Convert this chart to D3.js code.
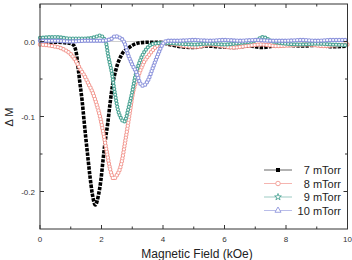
<!DOCTYPE html>
<html>
<head>
<meta charset="utf-8">
<script src="https://cdn.jsdelivr.net/npm/d3@7"></script>
<style>
  body { margin: 0; background: #fff; }
  text { font-family: "Liberation Sans", Arial, sans-serif; }
</style>
</head>
<body>
<div id="plot"></div>
<script>
// values (field in kOe, delta M)
var field7 = [0, 0.5, 0.9, 1.07, 1.18, 1.24, 1.30, 1.37, 1.42, 1.48, 1.54, 1.62, 1.70, 1.80, 1.90, 1.98, 2.05, 2.12, 2.20, 2.28, 2.36, 2.48, 2.65, 2.9, 3.2, 3.5, 3.9, 4.2, 4.6, 5.0, 5.4, 5.8, 6.3, 6.8, 7.2, 7.6, 8.0, 8.5, 9.0, 9.5, 10];
var dm7 = [-0.001, -0.001, -0.002, -0.004, -0.015, -0.035, -0.056, -0.079, -0.100, -0.125, -0.148, -0.178, -0.203, -0.218, -0.205, -0.185, -0.158, -0.133, -0.110, -0.082, -0.058, -0.036, -0.018, -0.008, -0.002, -0.001, -0.001, -0.004, -0.007, -0.008, -0.006, -0.007, -0.008, -0.006, -0.008, -0.006, -0.005, -0.006, -0.005, -0.007, -0.006];

var field8 = [0, 0.4, 0.75, 1.0, 1.15, 1.3, 1.45, 1.56, 1.72, 1.85, 1.95, 2.05, 2.18, 2.28, 2.40, 2.50, 2.58, 2.67, 2.76, 2.84, 2.93, 3.02, 3.18, 3.35, 3.58, 3.80, 4.0, 4.3, 4.7, 5.1, 5.5, 5.9, 6.3, 6.7, 7.2, 7.7, 8.2, 8.7, 9.2, 9.6, 10];
var dm8 = [-0.004, -0.006, -0.010, -0.017, -0.025, -0.036, -0.046, -0.055, -0.069, -0.085, -0.100, -0.120, -0.149, -0.170, -0.183, -0.178, -0.172, -0.158, -0.136, -0.116, -0.092, -0.069, -0.048, -0.030, -0.016, -0.006, -0.002, -0.003, -0.006, -0.007, -0.004, -0.006, -0.008, -0.006, -0.004, -0.006, -0.005, -0.004, -0.006, -0.005, -0.004];

var field9 = [0, 0.5, 1.0, 1.5, 1.8, 1.95, 2.08, 2.15, 2.21, 2.34, 2.44, 2.54, 2.63, 2.73, 2.80, 2.87, 2.99, 3.09, 3.25, 3.48, 3.7, 4.0, 4.5, 5.0, 5.5, 6.0, 6.5, 7.0, 7.25, 7.5, 8.0, 8.5, 9.0, 9.5, 10];
var dm9 = [0.005, 0.006, 0.004, 0.004, 0.006, 0.008, 0.004, -0.002, -0.017, -0.043, -0.070, -0.092, -0.102, -0.107, -0.102, -0.090, -0.069, -0.048, -0.026, -0.009, -0.003, -0.002, -0.003, -0.004, -0.003, -0.004, -0.002, 0.001, 0.006, 0.001, -0.003, -0.004, -0.003, -0.004, -0.005];

var field10 = [0, 0.5, 1.0, 1.5, 2.0, 2.3, 2.44, 2.6, 2.75, 2.86, 2.99, 3.15, 3.25, 3.35, 3.51, 3.67, 3.84, 4.0, 4.15, 4.5, 5.0, 5.5, 6.0, 6.5, 7.0, 7.5, 8.0, 8.5, 9.0, 9.5, 10];
var dm10 = [0.001, 0.001, 0.000, 0.001, 0.001, 0.003, 0.007, 0.005, -0.002, -0.017, -0.030, -0.043, -0.055, -0.059, -0.052, -0.035, -0.017, -0.003, 0.001, 0.001, 0.002, 0.001, 0.002, 0.001, 0.002, 0.001, 0.001, 0.002, 0.001, 0.002, 0.002];

var seriesNames = ["7 mTorr", "8 mTorr", "9 mTorr", "10 mTorr"];
var xTicks = [0, 2, 4, 6, 8, 10];
var xMinor = [1, 3, 5, 7, 9];
var yTicks = [0, -0.1, -0.2];
var yMinor = [-0.05, -0.15];

var W = 352, H = 260;
var plotLeft = 40, plotRight = 347.5, plotTop = 4, plotBottom = 229;

var svg = d3.select('#plot')
  .append('svg')
  .attr('width', W)
  .attr('height', H);

var x = d3.scaleLinear().domain([0, 10]).range([plotLeft, plotRight]);
var y = d3.scaleLinear().domain([-0.25, 0.05]).range([plotBottom, plotTop]);

// zero reference line
svg.append('line')
  .attr('x1', x(0)).attr('x2', x(10))
  .attr('y1', y(0)).attr('y2', y(0))
  .attr('stroke', '#c4c4c4')
  .attr('stroke-width', 0.8);

var line = d3.line()
  .x(d => x(d[0]))
  .y(d => y(d[1]))
  .curve(d3.curveMonotoneX);

function pairs(xs, ys) {
  return xs.map((v, i) => [v, ys[i]]);
}

// 7 mTorr: filled squares
svg.append('path')
  .datum(pairs(field7, dm7))
  .attr('d', line)
  .attr('fill', 'none')
  .attr('stroke', '#000')
  .attr('stroke-width', 3.6)
  .attr('stroke-dasharray', '3.4,1.2');

// open markers drawn as coloured dots with white centres
function openSeries(data, color, outer, inner, gap) {
  var g = svg.append('g');
  g.append('path')
    .datum(data)
    .attr('d', line)
    .attr('fill', 'none')
    .attr('stroke', color)
    .attr('stroke-width', outer)
    .attr('stroke-linecap', 'round')
    .attr('stroke-dasharray', '0,' + gap);
  g.append('path')
    .datum(data)
    .attr('d', line)
    .attr('fill', 'none')
    .attr('stroke', '#fff')
    .attr('stroke-width', inner)
    .attr('stroke-linecap', 'round')
    .attr('stroke-dasharray', '0,' + gap);
}

openSeries(pairs(field8, dm8), '#f29890', 4.4, 2.4, 3.0);
openSeries(pairs(field9, dm9), '#4ea596', 4.2, 1.8, 3.0);
openSeries(pairs(field10, dm10), '#8e95dc', 4.4, 2.2, 3.0);

// frame and ticks
var axisColor = '#333';
svg.append('rect')
  .attr('x', plotLeft).attr('y', plotTop)
  .attr('width', plotRight - plotLeft).attr('height', plotBottom - plotTop)
  .attr('fill', 'none')
  .attr('stroke', axisColor)
  .attr('stroke-width', 1);

var ticks = svg.append('g').attr('stroke', axisColor).attr('stroke-width', 1);
xTicks.concat(xMinor).forEach(function (t) {
  var len = xTicks.indexOf(t) >= 0 ? 4 : 2.5;
  ticks.append('line').attr('x1', x(t)).attr('x2', x(t)).attr('y1', plotBottom).attr('y2', plotBottom - len);
  ticks.append('line').attr('x1', x(t)).attr('x2', x(t)).attr('y1', plotTop).attr('y2', plotTop + len);
});
yTicks.concat(yMinor).forEach(function (t) {
  var len = yTicks.indexOf(t) >= 0 ? 4 : 2.5;
  ticks.append('line').attr('x1', plotLeft).attr('x2', plotLeft + len).attr('y1', y(t)).attr('y2', y(t));
  ticks.append('line').attr('x1', plotRight).attr('x2', plotRight - len).attr('y1', y(t)).attr('y2', y(t));
});

svg.append('g')
  .selectAll('text')
  .data(xTicks)
  .enter()
  .append('text')
  .attr('x', d => x(d))
  .attr('y', 242)
  .attr('text-anchor', 'middle')
  .attr('font-size', 8)
  .attr('fill', '#333')
  .text(d => d);

svg.append('g')
  .selectAll('text')
  .data(yTicks)
  .enter()
  .append('text')
  .attr('x', 35)
  .attr('y', d => y(d) + 3)
  .attr('text-anchor', 'end')
  .attr('font-size', 8)
  .attr('fill', '#333')
  .text(d => d3.format('.1f')(d).replace('\u2212', '-'));

svg.append('text')
  .attr('x', 197)
  .attr('y', 258)
  .attr('text-anchor', 'middle')
  .attr('font-size', 12)
  .attr('fill', '#222')
  .text('Magnetic Field (kOe)');

svg.append('text')
  .attr('transform', 'translate(12.5,117) rotate(-90)')
  .attr('text-anchor', 'middle')
  .attr('font-size', 11)
  .attr('fill', '#222')
  .text('\u0394 M');

// legend
var legColors = ['#000', '#f29890', '#4ea596', '#8e95dc'];
var legLine = ['#666', '#f5b5b0', '#9ccbc3', '#b9bde9'];
var leg = svg.append('g');
seriesNames.forEach(function (name, i) {
  var ly = 170 + i * 13.5;
  leg.append('line')
    .attr('x1', 264).attr('x2', 292)
    .attr('y1', ly).attr('y2', ly)
    .attr('stroke', legLine[i])
    .attr('stroke-width', 1);
  var sym = [d3.symbolSquare, d3.symbolCircle, d3.symbolStar, d3.symbolTriangle][i];
  leg.append('path')
    .attr('transform', 'translate(278,' + ly + ')')
    .attr('d', d3.symbol().type(sym).size(i == 2 ? 14 : 16))
    .attr('fill', i == 0 ? '#000' : '#fff')
    .attr('stroke', legColors[i])
    .attr('stroke-width', i == 0 ? 0 : 0.9);
  leg.append('text')
    .attr('x', 341)
    .attr('y', ly + 4)
    .attr('text-anchor', 'end')
    .attr('font-size', 11)
    .attr('fill', '#222')
    .text(name);
});
</script>
</body>
</html>
